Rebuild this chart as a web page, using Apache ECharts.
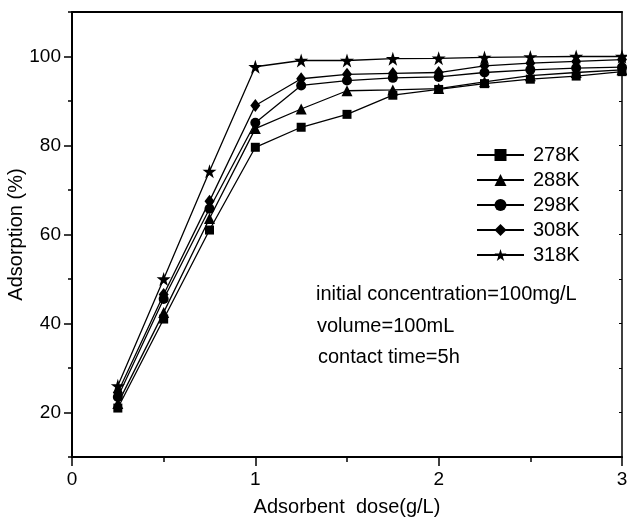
<!DOCTYPE html>
<html>
<head>
<meta charset="utf-8">
<script src="https://cdn.jsdelivr.net/npm/echarts@6/dist/echarts.min.js"></script>
<style>
html,body{margin:0;padding:0;background:#fff;}
#chart{width:627px;height:519px;}
</style>
</head>
<body>
<div id="chart"></div>
<script>
const doses = [0.25, 0.5, 0.75, 1.0, 1.25, 1.5, 1.75, 2.0, 2.25, 2.5, 2.75, 3.0];
const s278 = [21.0, 41.0, 61.0, 79.6, 84.1, 87.0, 91.3, 92.6, 93.9, 94.9, 95.6, 96.6];
const s288 = [22.0, 42.5, 63.6, 83.8, 88.2, 92.3, 92.5, 92.8, 94.3, 95.7, 96.4, 97.0];
const s298 = [23.5, 45.5, 65.8, 85.1, 93.5, 94.6, 95.2, 95.4, 96.4, 97.0, 97.4, 97.6];
const s308 = [24.5, 46.5, 67.5, 89.0, 95.0, 96.0, 96.2, 96.4, 97.9, 98.5, 98.9, 99.3];
const s318 = [26.0, 50.0, 74.2, 97.7, 99.1, 99.1, 99.5, 99.6, 99.8, 99.9, 100.0, 100.0];
const seriesNames = ['278K', '288K', '298K', '308K', '318K'];
const yTickLabels = [20, 40, 60, 80, 100];
const xTickLabels = [0, 1, 2, 3];
const notes = ['initial concentration=100mg/L', 'volume=100mL', 'contact time=5h'];

const FONT = "'Liberation Sans', Arial, sans-serif";
const starPath = 'path://M50,0 L61.2,34.5 L97.6,34.5 L68.2,55.9 L79.4,90.5 L50,69.1 L20.6,90.5 L31.8,55.9 L2.4,34.5 L38.8,34.5 Z';
const symbols = ['rect', 'triangle', 'circle', 'diamond', starPath];
const sizes = [9, 11, 10, [10, 13], 14];
const allVals = [s278, s288, s298, s308, s318];

const series = seriesNames.map((name, i) => ({
  name: name,
  type: 'line',
  xAxisIndex: 0,
  yAxisIndex: 0,
  data: doses.map((d, j) => [d, allVals[i][j]]),
  symbol: symbols[i],
  symbolSize: sizes[i],
  showSymbol: true,
  lineStyle: { color: '#000', width: 1.3 },
  itemStyle: { color: '#000' },
  emphasis: { disabled: true },
  animation: false,
  z: 3 + i
}));

const chart = echarts.init(document.getElementById('chart'), null, { renderer: 'canvas' });
chart.setOption({
  animation: false,
  backgroundColor: '#fff',
  grid: { left: 72, right: 5, top: 12, bottom: 62, containLabel: false, outerBoundsMode: 'none' },
  xAxis: [{
    type: 'value', position: 'bottom', min: 0, max: 3, interval: 1,
    axisLine: { show: true, lineStyle: { color: '#000', width: 2 } },
    axisTick: { show: true, length: 9, lineStyle: { color: '#000', width: 1.5 } },
    minorTick: { show: true, splitNumber: 2, length: 5, lineStyle: { color: '#000', width: 1.5 } },
    axisLabel: { color: '#000', fontSize: 19, fontFamily: FONT, margin: 13, customValues: xTickLabels },
    splitLine: { show: false },
    name: 'Adsorbent  dose(g/L)', nameLocation: 'middle', nameGap: 40, nameMoveOverlap: false,
    nameTextStyle: { color: '#000', fontSize: 20, fontFamily: FONT }
  }, {
    type: 'value', position: 'top', min: 0, max: 3, interval: 1,
    axisLine: { show: true, lineStyle: { color: '#000', width: 2 } },
    axisTick: { show: false }, axisLabel: { show: false }, splitLine: { show: false }
  }],
  yAxis: [{
    type: 'value', position: 'left', min: 10, max: 110, interval: 10,
    axisLine: { show: true, lineStyle: { color: '#000', width: 2 } },
    axisTick: { show: true, length: 8, customValues: yTickLabels, lineStyle: { color: '#000', width: 1.5 } },
    axisLabel: { color: '#000', fontSize: 19, fontFamily: FONT, margin: 11, customValues: yTickLabels },
    splitLine: { show: false },
    name: 'Adsorption (%)', nameLocation: 'middle', nameGap: 46, nameMoveOverlap: false,
    nameTextStyle: { color: '#000', fontSize: 20, fontFamily: FONT }
  }, {
    type: 'value', position: 'left', min: 10, max: 110, interval: 10,
    axisLine: { show: false },
    axisTick: { show: true, length: 4, lineStyle: { color: '#000', width: 1.5 } },
    axisLabel: { show: false }, splitLine: { show: false }
  }, {
    type: 'value', position: 'right', min: 10, max: 110, interval: 10,
    axisLine: { show: true, lineStyle: { color: '#000', width: 1.5 } },
    axisTick: { show: true, inside: true, length: 3, lineStyle: { color: '#000', width: 1 } },
    axisLabel: { show: false }, splitLine: { show: false }
  }],
  legend: {
    show: true, orient: 'vertical', left: 476, top: 145, padding: 0,
    itemWidth: 47, itemHeight: 15, itemGap: 5,
    data: seriesNames,
    textStyle: { color: '#000', fontSize: 20, fontFamily: FONT, lineHeight: 20, padding: [0, 0, 0, 4] },
    selectedMode: false
  },
  graphic: notes.map((t, i) => ({
    type: 'text', left: [316, 317, 318][i], top: [284, 316, 347][i],
    style: { text: t, fill: '#000', font: '20px ' + FONT }
  })),
  series: series
});
</script>
</body>
</html>
